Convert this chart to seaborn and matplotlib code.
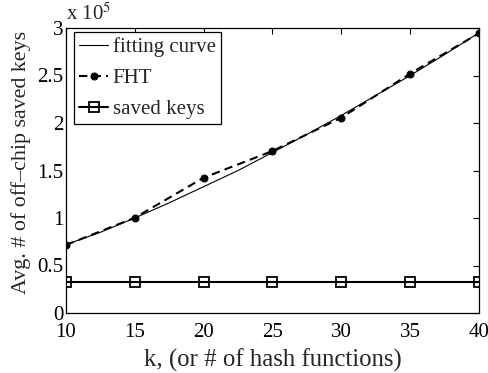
import numpy as np
import pandas as pd
import seaborn as sns
import matplotlib
matplotlib.use('Agg')
import matplotlib.pyplot as plt

# values (units of 1e5)
k_points = [10, 15, 20, 25, 30, 35, 40]
fht = [0.716, 1.003, 1.424, 1.705, 2.056, 2.52, 2.945]
saved_keys = [0.326, 0.326, 0.326, 0.326, 0.326, 0.326, 0.326]

k_fit = [10, 12.5, 15, 17.5, 20, 22.5, 25, 27.5, 30, 32.5, 35, 37.5, 40]
fit_curve = [0.72, 0.85, 1.0, 1.16, 1.33, 1.50, 1.69, 1.88, 2.08, 2.29,
             2.50, 2.72, 2.95]

sns.set_style('white')
plt.rcParams['font.family'] = ['Liberation Serif', 'DejaVu Serif']
plt.rcParams['mathtext.fontset'] = 'stix'

fig = plt.figure(figsize=(4.89, 3.73), dpi=100)
ax = fig.add_axes([66 / 489, 60 / 373, 413 / 489, 285 / 373])

df_fit = pd.DataFrame({'k': k_fit, 'v': fit_curve})
df_pts = pd.DataFrame({'k': k_points, 'fht': fht, 'saved': saved_keys})

sns.lineplot(data=df_fit, x='k', y='v', ax=ax, color='black', lw=0.8,
             label='fitting curve')
sns.lineplot(data=df_pts, x='k', y='fht', ax=ax, color='black', lw=1.5,
             linestyle=(0, (4, 2.5)), marker='o', markersize=5,
             markeredgecolor='black', label='FHT')
sns.lineplot(data=df_pts, x='k', y='saved', ax=ax, color='black', lw=1.5,
             marker='s', markersize=7, markerfacecolor='none',
             markeredgecolor='black', markeredgewidth=1.3,
             label='saved keys')

ax.set_xlim(10, 40)
ax.set_ylim(0, 3)
ax.set_xticks([10, 15, 20, 25, 30, 35, 40])
ax.set_yticks([0, 0.5, 1, 1.5, 2, 2.5, 3])
ax.set_yticklabels(['0', '0.5', '1', '1.5', '2', '2.5', '3'])
ax.tick_params(direction='in', top=True, right=True, length=4, width=0.8,
               labelsize=15, pad=2, colors='black')
ax.tick_params(axis='x', pad=7)
for s in ax.spines.values():
    s.set_color('black')
    s.set_linewidth(0.9)

ax.set_xlabel('k, (or # of hash functions)', fontsize=17.8, labelpad=5)
ax.set_ylabel('Avg. # of off\u2013chip saved keys', fontsize=15.8)
ax.yaxis.set_label_coords(-0.085, 0.53)
ax.text(0.0, 1.01, r'x 10$^5$', transform=ax.transAxes, fontsize=15,
        ha='left', va='bottom')

leg = ax.legend(loc='upper left', bbox_to_anchor=(8 / 413, 1 - 4 / 285),
                fontsize=15, frameon=True, fancybox=False,
                framealpha=1, edgecolor='black', handlelength=1.4,
                handletextpad=0.2, borderaxespad=0, labelspacing=0.55,
                borderpad=0.25)
leg.get_frame().set_linewidth(0.9)

fig.savefig('out.png', dpi=100)
